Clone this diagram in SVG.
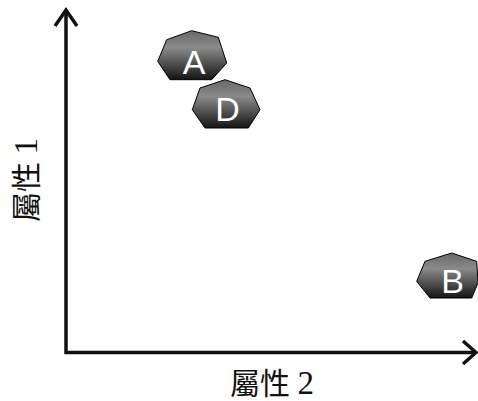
<svg xmlns="http://www.w3.org/2000/svg" width="478" height="401" viewBox="0 0 478 401">
<defs>
<linearGradient id="g" x1="0" y1="0" x2="0" y2="1">
<stop offset="0" stop-color="#686868"/>
<stop offset="0.35" stop-color="#8a8a8a"/>
<stop offset="1" stop-color="#141414"/>
</linearGradient>
<style>
.node{fill:url(#g);stroke:#000;stroke-width:1}
.lbl{font-family:"Liberation Sans",Arial,sans-serif;font-size:34px;fill:#fff;text-anchor:middle}
.ax{fill:none;stroke:#111;stroke-width:3.5}
.at{font-family:"Liberation Serif","Noto Sans CJK TC",serif;font-size:30px;fill:#111}
.dg{font-size:33px}
</style>
</defs>
<rect width="478" height="401" fill="#fff"/>
<g id="connectors">
<path class="ax" d="M66,10 V352.5 H476"/>
<path class="ax" d="M55,26 L66,10 L77,26"/>
<path class="ax" d="M463,341 L476,352.5 L463,364"/>
</g>
<g id="node-A">
<polygon class="node" points="191.7,30.7 218.3,37.3 226.7,63 211.7,79.7 170,79.7 157.7,61.3 166.7,39.7"/>
<text class="lbl" x="194" y="73.5">A</text>
</g>
<g id="node-D">
<polygon class="node" points="225,79.7 250,88 260,109.7 248.3,128 205,128 192.3,109.7 200,88"/>
<text class="lbl" x="227.5" y="121">D</text>
</g>
<g id="node-B">
<polygon class="node" points="451.7,253 476.7,261.3 478,283 471.7,298 430,298 416.7,281.3 425,261.3"/>
<text class="lbl" x="452.5" y="293">B</text>
</g>
<g id="axis-labels">
<text class="at" x="230" y="394">屬性 <tspan class="dg">2</tspan></text>
<text class="at" transform="translate(37,222) rotate(-90)">屬性 <tspan class="dg">1</tspan></text>
</g>
</svg>
